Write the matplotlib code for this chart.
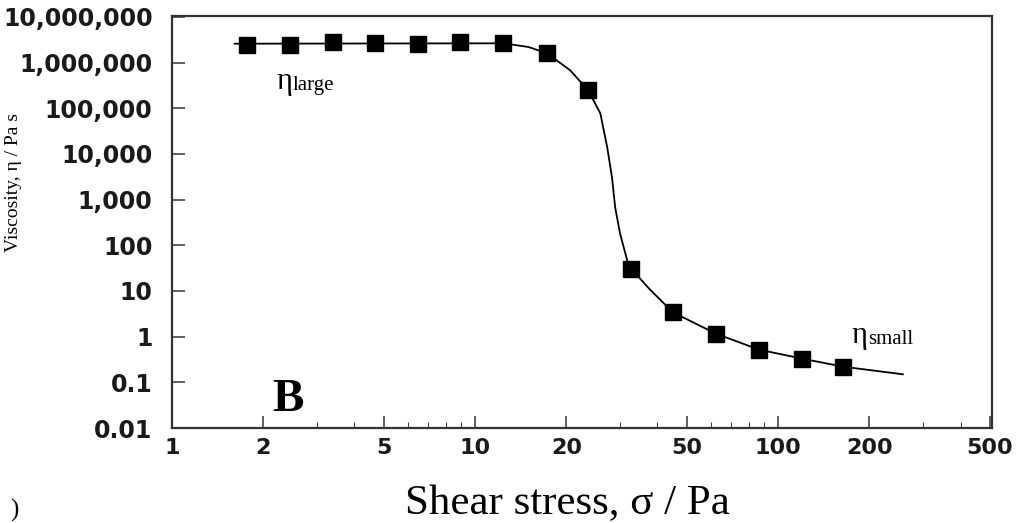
import matplotlib.pyplot as plt
from matplotlib.ticker import FixedLocator, NullFormatter

stress = [1.77, 2.45, 3.40, 4.68, 6.48, 8.92, 12.4, 17.3, 23.6, 32.7, 45.0, 62.4, 86.5, 120, 164]
viscosity = [2.4e6, 2.4e6, 2.8e6, 2.66e6, 2.5e6, 2.8e6, 2.66e6, 1.6e6, 2.5e5, 31, 3.4, 1.16, 0.52, 0.33, 0.22]

# fitted curve
curve_x = [1.61, 12.4, 15.0, 17.3, 20.6, 23.6, 25.9, 27.3, 28.3, 29.0, 30.1, 31.8, 32.7,
           37.8, 45.0, 62.4, 86.5, 120, 164, 258]
curve_y = [2.6e6, 2.65e6, 2.2e6, 1.6e6, 6.8e5, 2.5e5, 7.8e4, 1.4e4, 3.1e3, 680, 180, 46, 31,
           10.7, 3.4, 1.16, 0.52, 0.33, 0.22, 0.15]

xticks = [1, 2, 5, 10, 20, 50, 100, 200, 500]
yticks = [0.01, 0.1, 1, 10, 100, 1e3, 1e4, 1e5, 1e6, 1e7]
ytick_labels = ['0.01', '0.1', '1', '10', '100', '1,000', '10,000', '100,000',
                '1,000,000', '10,000,000']

serif = 'Liberation Serif'
sans = 'DejaVu Sans'

fig = plt.figure(figsize=(10.21, 5.23), dpi=100)
ax = fig.add_axes([172 / 1021, 1 - 428 / 523, 820 / 1021, 412 / 523])

ax.plot(curve_x, curve_y, color='black', lw=1.3)
ax.plot(stress, viscosity, 's', color='black', ms=11, mec='black')

ax.set_xscale('log')
ax.set_yscale('log')
ax.set_xlim(1, 508)
ax.set_ylim(0.01, 1.05e7)

ax.xaxis.set_major_locator(FixedLocator(xticks))
ax.set_xticklabels([str(t) for t in xticks])
ax.yaxis.set_major_locator(FixedLocator(yticks))
ax.set_yticklabels(ytick_labels)
ax.xaxis.set_minor_formatter(NullFormatter())
ax.yaxis.set_minor_formatter(NullFormatter())

ax.tick_params(which='both', direction='in', top=False, right=False, color='#444')
ax.tick_params(which='major', length=9, width=1.2, labelcolor='#1a1a1a')
ax.tick_params(axis='y', which='major', labelsize=17, pad=14)
ax.tick_params(axis='x', which='major', labelsize=16, pad=7)
ax.tick_params(which='minor', length=4, width=0.8)
for lab in ax.get_xticklabels() + ax.get_yticklabels():
    lab.set_fontfamily(sans)
    lab.set_fontweight('bold')

for sp in ax.spines.values():
    sp.set_color('#333')
    sp.set_linewidth(1.6)

ax.text(2.15, 0.024, 'B', fontfamily=serif, fontsize=34, fontweight='bold',
        color='black', va='baseline')

t1 = ax.text(2.22, 2.7e5, 'η', fontfamily=serif, fontsize=22, va='baseline')
ax.annotate('large', xy=(1, 0.2), xycoords=t1, fontfamily=serif, fontsize=15,
            va='baseline')
t2 = ax.text(175, 0.74, 'η', fontfamily=serif, fontsize=22, va='baseline')
ax.annotate('small', xy=(1, 0.2), xycoords=t2, fontfamily=serif, fontsize=15,
            va='baseline')

fig.text(567 / 1021, 1 - 504 / 523, 'Shear stress, σ / Pa', fontfamily=serif,
         fontsize=31, ha='center', va='center')

# y label squeezed into the narrow left margin, as in the original
fig.text(13 / 1021, 1 - 183 / 523, 'Viscosity, η / Pa s', fontfamily=serif,
         fontsize=14, rotation=90, ha='center', va='center')
fig.text(14 / 1021, 1 - 510 / 523, ')', fontfamily=serif, fontsize=18,
         ha='center', va='center')

fig.savefig('out.png', dpi=100)
